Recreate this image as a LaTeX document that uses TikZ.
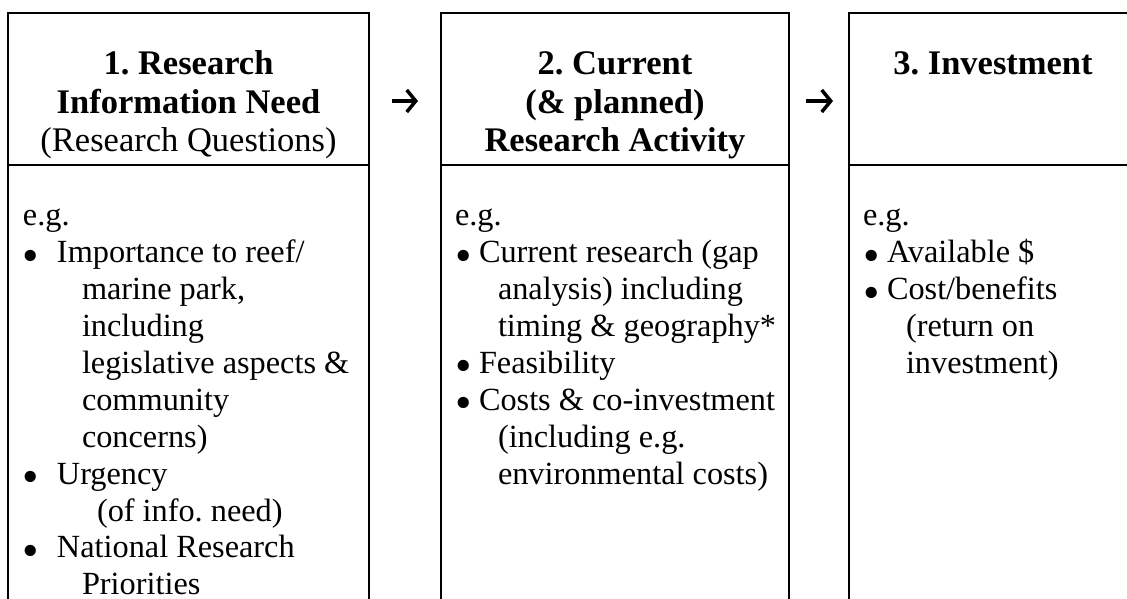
\documentclass[tikz,border=0pt]{standalone}
\usepackage{fontspec}
\setmainfont{Liberation Serif}
\usetikzlibrary{arrows.meta,positioning}

\newcommand{\bul}[1]{\makebox[#1][l]{\raisebox{-8.5pt}{\fontsize{47}{47}\selectfont\textbullet}}}

\tikzset{
  panel/.style={draw, line width=1.3pt, inner sep=0pt, outer sep=0pt,
    minimum width=#1},
  headtext/.style={inner sep=0pt, outer sep=0pt, align=center,
    font=\fontsize{34.5}{38.3}\selectfont\bfseries\frenchspacing},
  listtext/.style={inner sep=0pt, outer sep=0pt, align=left, anchor=north west,
    font=\fontsize{32.3}{36.9}\selectfont\frenchspacing},
  flow/.style={line width=3.5pt, -{Straight Barb[length=9pt,width=22pt,line width=3.5pt]}}
}

\begin{document}
\begin{tikzpicture}[x=1pt,y=-1pt]
\useasboundingbox (0,0) rectangle (1127,599);

% column boxes
\node[panel=361pt, minimum height=152pt, anchor=north west] (head1) at (8,13) {};
\node[panel=361pt, minimum height=480pt, below=0pt of head1] (body1) {};
\node[panel=348pt, minimum height=152pt, anchor=north west] (head2) at (441,13) {};
\node[panel=348pt, minimum height=480pt, below=0pt of head2] (body2) {};
\node[panel=288pt, minimum height=152pt, anchor=north west] (head3) at (849,13) {};
\node[panel=288pt, minimum height=480pt, below=0pt of head3] (body3) {};

% headings
\node[headtext, below=35pt of head1.north] (title1)
  {\strut 1. Research\\ Information Need\\ \mdseries (Research Questions)};
\node[headtext, below=35pt of head2.north] (title2)
  {\strut 2. Current\\ (\& planned)\\ Research Activity};
\node[headtext, below=35pt of head3.north] (title3)
  {\strut 3. Investment};

% lists
\node[listtext] (list1) at ([xshift=15pt,yshift=-35pt]body1.north west)
  {\strut e.g.\\
   \bul{34pt}Importance to reef/\\
   \hspace*{59pt}marine park,\\
   \hspace*{59pt}including\\
   \hspace*{59pt}legislative aspects \&\\
   \hspace*{59pt}community\\
   \hspace*{59pt}concerns)\\
   \bul{34pt}Urgency\\
   \hspace*{74pt}(of info. need)\\
   \bul{34pt}National Research\\
   \hspace*{59pt}Priorities};
\node[listtext] (list2) at ([xshift=14pt,yshift=-35pt]body2.north west)
  {\strut e.g.\\
   \bul{24pt}Current research (gap\\
   \hspace*{43pt}analysis) including\\
   \hspace*{43pt}timing \& geography*\\
   \bul{24pt}Feasibility\\
   \bul{24pt}Costs \& co-investment\\
   \hspace*{43pt}(including e.g.\\
   \hspace*{43pt}environmental costs)};
\node[listtext] (list3) at ([xshift=14pt,yshift=-35pt]body3.north west)
  {\strut e.g.\\
   \bul{24pt}Available \$\\
   \bul{24pt}Cost/benefits\\
   \hspace*{43pt}(return on\\
   \hspace*{43pt}investment)};

% arrows
\draw[flow, shorten <=23pt, shorten >=23pt]
  ([yshift=-12pt]head1.east) -- ([yshift=-12pt]head2.west);
\draw[flow, shorten <=17pt, shorten >=16pt]
  ([yshift=-12pt]head2.east) -- ([yshift=-12pt]head3.west);
\end{tikzpicture}
\end{document}
